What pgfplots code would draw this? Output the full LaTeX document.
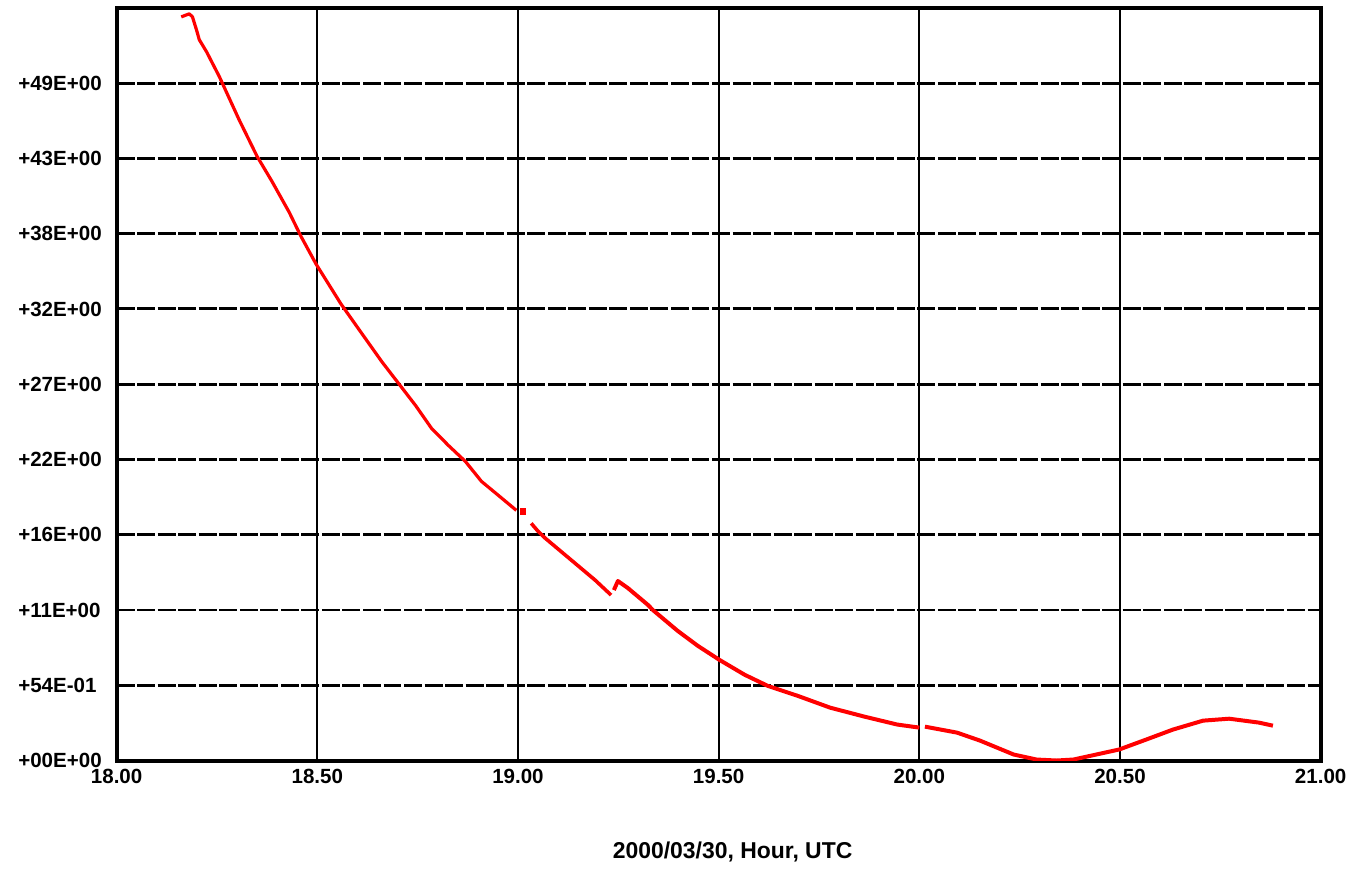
\documentclass[border=0pt]{standalone}
\usepackage{fontspec}
\setmainfont{Liberation Sans}
\usepackage{pgfplots}
\pgfplotsset{compat=1.18}
\begin{document}
\begin{tikzpicture}
\begin{axis}[
  scale only axis,
  width=604pt, height=377.5pt,
  xmin=18, xmax=21, ymin=0, ymax=54,
  xtick={18,18.5,19,19.5,20,20.5,21},
  xticklabels={18.00,18.50,19.00,19.50,20.00,20.50,21.00},
  ytick={0,5.4,10.8,16.2,21.6,27,32.4,37.8,43.2,48.6},
  yticklabels={+00E+00,+54E-01,+11E+00,+16E+00,+22E+00,+27E+00,+32E+00,+38E+00,+43E+00,+49E+00},
  major tick length=0pt,
  grid=major,
  x grid style={black, line width=1pt, solid},
  y grid style={black, line width=1.5pt, dash pattern=on 9pt off 1.3pt},
  axis line style={black, line width=2pt},
  yticklabel style={anchor=west, inner xsep=0pt, xshift=-49.5pt, font=\bfseries\fontsize{10.3}{12}\selectfont},
  xticklabel style={font=\bfseries\fontsize{10.3}{12}\selectfont, yshift=-1pt},
  xlabel={2000/03/30, Hour, UTC},
  xlabel style={at={(axis description cs:0.5,0)}, anchor=center, yshift=-46pt, xshift=7pt, font=\bfseries\fontsize{11.5}{13}\selectfont},
]
\addplot[red, line width=1.6pt, no marks, line join=round] coordinates {
(18.161,53.36) (18.181,53.58) (18.189,53.36) (18.199,52.43) (18.206,51.72)
(18.224,50.86) (18.256,49.07) (18.305,45.99) (18.350,43.35) (18.387,41.56)
(18.430,39.34) (18.459,37.63) (18.497,35.62) (18.559,32.76) (18.608,30.76)
(18.661,28.61) (18.703,27.04) (18.745,25.47) (18.785,23.82) (18.827,22.60)
(18.869,21.46) (18.909,20.03) (18.951,19.03) (18.996,17.95)
};
\addplot[red, only marks, mark=square*, mark size=1.3pt] coordinates {(19.013,17.88)};
\addplot[red, line width=1.8pt, no marks, line join=round] coordinates {
(19.033,17.02) (19.050,16.45) (19.068,15.95) (19.142,14.16) (19.192,12.95) (19.232,11.87)
};
\addplot[red, line width=2pt, no marks, line join=round] coordinates {
(19.239,12.23) (19.249,12.88) (19.274,12.37) (19.324,11.16) (19.336,10.80)
(19.398,9.30) (19.448,8.23) (19.502,7.22) (19.565,6.15) (19.622,5.36)
(19.696,4.65) (19.778,3.79) (19.863,3.15) (19.945,2.58) (20.000,2.36)
};
\addplot[red, line width=2pt, no marks, line join=round] coordinates {
(20.014,2.43) (20.094,2.00) (20.151,1.43) (20.235,0.43) (20.292,0.07)
(20.342,0.00) (20.384,0.07) (20.441,0.43) (20.498,0.79) (20.565,1.50)
(20.632,2.22) (20.707,2.86) (20.772,3.00) (20.846,2.72) (20.881,2.50)
};
\coordinate (O) at (rel axis cs:0,0);
\coordinate (T) at (rel axis cs:1,1);
\end{axis}
\path (O) +(-58.5pt,-53.5pt) coordinate (BL);
\path (T) +(14pt,4pt) coordinate (TR);
\end{tikzpicture}
\end{document}
